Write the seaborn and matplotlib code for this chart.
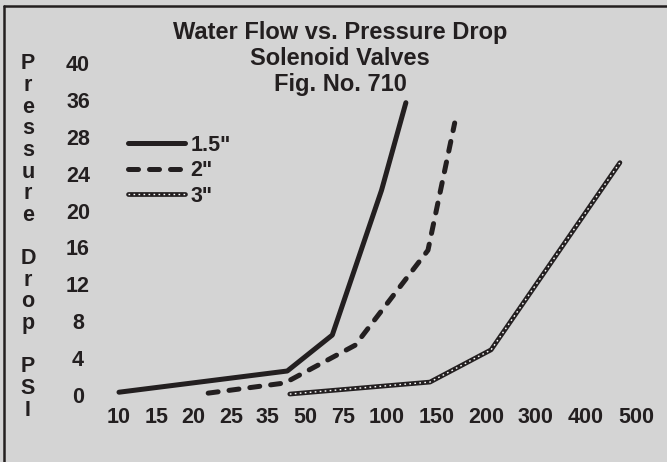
import numpy as np
import pandas as pd
import matplotlib
matplotlib.use("Agg")
import matplotlib.pyplot as plt
from matplotlib.lines import Line2D
import seaborn as sns

# flow (gpm) vs pressure drop
flow_15 = [10, 43, 68, 97, 119]
psi_15 = [0.3, 2.6, 6.5, 22.2, 31.7]

flow_2 = [22, 42, 82, 141, 168]
psi_2 = [0.2, 1.3, 5.4, 15.7, 29.5]

flow_3 = [44, 143, 210, 468]
psi_3 = [0.1, 1.4, 4.9, 25.2]

x_ticks = [10, 15, 20, 25, 35, 50, 75, 100, 150, 200, 300, 400, 500]
# where each x label sits along the axis (the chart spaces them unevenly)
x_tick_pos = [0, 1.02, 1.99, 3.01, 3.98, 5.0, 6.02, 7.2, 8.55, 9.87, 11.21, 12.55, 13.9]

y_tick_pos = [0, 4, 8, 12, 16, 20, 24, 28, 32, 36]
y_tick_labels = ["0", "4", "8", "12", "16", "20", "24", "28", "36", "40"]

title = "Water Flow vs. Pressure Drop\nSolenoid Valves\nFig. No. 710"
ylab = "Pressure Drop PSI"

ink = "#231f20"
bg = "#d4d4d4"
fs = 15.5

sns.set_style("white", {"axes.facecolor": bg, "figure.facecolor": bg})
plt.rcParams["font.family"] = ["Liberation Sans", "DejaVu Sans"]
plt.rcParams["font.weight"] = "bold"

fig = plt.figure(figsize=(6.67, 4.62), dpi=100)
W, H = 667, 462
ax = fig.add_axes([119 / W, (H - 404.2) / H, (636 - 119) / W, (404.2 - 44.6) / H])
ax.set_facecolor(bg)


def fwd(x):
    return np.interp(x, x_ticks, x_tick_pos)


def inv(p):
    return np.interp(p, x_tick_pos, x_ticks)


ax.set_xscale("function", functions=(fwd, inv))

d15 = pd.DataFrame({"flow": flow_15, "psi": psi_15})
d2 = pd.DataFrame({"flow": flow_2, "psi": psi_2})
d3 = pd.DataFrame({"flow": flow_3, "psi": psi_3})

sns.lineplot(data=d15, x="flow", y="psi", ax=ax, color=ink, lw=3.6,
             solid_capstyle="round", solid_joinstyle="round", clip_on=False)
sns.lineplot(data=d2, x="flow", y="psi", ax=ax, color=ink, lw=3.6,
             dashes=False, clip_on=False)
ax.lines[-1].set_dashes((2, 2.2))
ax.lines[-1].set_dash_capstyle("round")
sns.lineplot(data=d3, x="flow", y="psi", ax=ax, color=ink, lw=3.4, clip_on=False)
sns.lineplot(data=d3, x="flow", y="psi", ax=ax, color="white", lw=1.0, clip_on=False)
ax.lines[-1].set_dashes((1.2, 2.4))

ax.set_xlim(10, 500)
ax.set_ylim(-1, 38)
ax.set_xticks(x_ticks)
ax.set_xticklabels([str(v) for v in x_ticks])
ax.set_yticks(y_tick_pos)
ax.set_yticklabels(y_tick_labels)
ax.xaxis.set_minor_locator(plt.NullLocator())
ax.tick_params(axis="both", length=0, labelsize=fs, labelcolor=ink)
ax.tick_params(axis="x", pad=2)
ax.tick_params(axis="y", pad=29.5)
for t in ax.get_yticklabels():
    t.set_ha("center")
for t in ax.get_xticklabels() + ax.get_yticklabels():
    t.set_fontweight("bold")
ax.set_xlabel("")
ax.set_ylabel("")
for s in ax.spines.values():
    s.set_visible(False)

# legend
h15 = Line2D([], [], color=ink, lw=3.6, solid_capstyle="round")
h2 = Line2D([], [], color=ink, lw=3.6, dashes=(2, 2.2), dash_capstyle="round")
h3a = Line2D([], [], color=ink, lw=3.4)
h3b = Line2D([], [], color="white", lw=1.0, dashes=(1.2, 2.4))
fig.legend([h15, h2, (h3a, h3b)], ['1.5"', '2"', '3"'],
           loc="upper left", bbox_to_anchor=(128 / W, (H - 135) / H),
           frameon=False, borderpad=0, borderaxespad=0,
           handlelength=2.65, handletextpad=0.25, labelspacing=0.2,
           prop={"size": fs, "weight": "bold"}, labelcolor=ink)

fig.text(340 / W, (H - 21) / H, title, ha="center", va="top", fontsize=17,
         fontweight="bold", color=ink, linespacing=1.17)

fig.text(28 / W, (H - 237) / H, "\n".join(ylab).replace(" ", ""), ha="center",
         va="center", fontsize=fs, fontweight="bold", color=ink, linespacing=1.04)

# frame along left and top
fig.add_artist(Line2D([4 / W, 4 / W], [0, (H - 6) / H], transform=fig.transFigure,
                      color=ink, lw=1.8))
fig.add_artist(Line2D([4 / W, 1], [(H - 6) / H, (H - 6) / H], transform=fig.transFigure,
                      color=ink, lw=1.8))

fig.savefig("out.png", dpi=100, facecolor=bg)
